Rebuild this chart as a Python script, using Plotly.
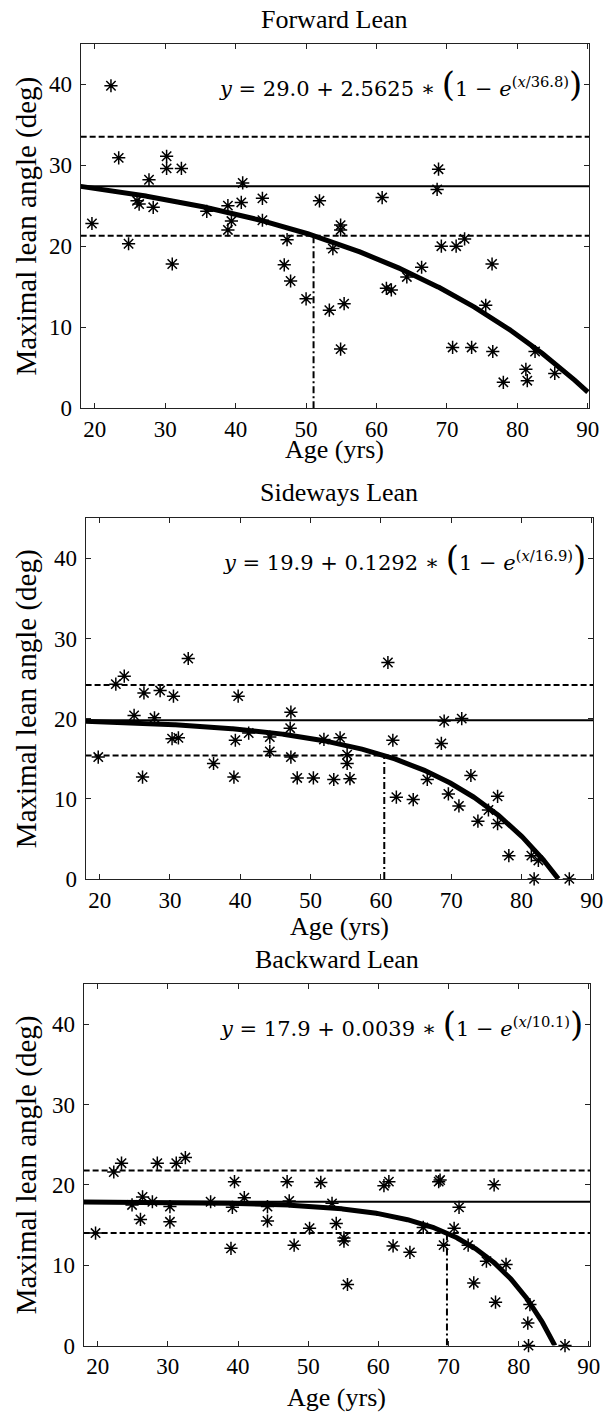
import numpy as np
import plotly.graph_objects as go

# Panel titles and fitted model y = a + b * (1 - exp(x / t))
titles = ["Forward Lean", "Sideways Lean", "Backward Lean"]
fit_a = [29.0, 19.9, 17.9]
fit_b = [2.5625, 0.1292, 0.0039]
fit_t = [36.8, 16.9, 10.1]
fit_a_txt = ["29.0", "19.9", "17.9"]
fit_b_txt = ["2.5625", "0.1292", "0.0039"]
fit_t_txt = ["36.8", "16.9", "10.1"]

# Young-adult reference level and band half-width (deg)
baseline = [27.4, 19.8, 17.9]
band = [6.1, 4.4, 3.9]

# Forward lean: age (yrs) and maximal lean angle (deg)
fwd_age = [19.6, 22.3, 23.4, 24.8, 26.0, 26.3, 27.7, 28.3, 30.2, 30.2, 31.0, 32.3,
           35.9, 38.9, 38.9, 39.4, 40.8, 41.0, 43.8, 43.8, 46.9, 47.3, 47.8, 50.0,
           51.9, 53.3, 53.8, 54.9, 54.9, 54.9, 55.4, 60.8, 61.4, 62.1, 64.3, 66.4,
           68.6, 68.8, 69.2, 70.8, 71.3, 72.5, 73.5, 75.5, 76.4, 76.5, 78.0, 81.2,
           81.4, 82.5, 85.3]
fwd_angle = [22.8, 39.8, 30.9, 20.3, 25.6, 25.2, 28.2, 24.8, 31.1, 29.6, 17.8, 29.6,
             24.3, 25.0, 22.0, 23.1, 25.4, 27.8, 25.9, 23.2, 17.7, 20.8, 15.7, 13.5,
             25.6, 12.1, 19.7, 22.6, 22.0, 7.3, 12.9, 26.0, 14.8, 14.6, 16.2, 17.4,
             27.0, 29.5, 20.0, 7.5, 20.0, 20.9, 7.5, 12.7, 17.8, 7.0, 3.2, 4.8,
             3.4, 7.0, 4.3]

# Sideways lean
side_age = [19.8, 22.3, 23.5, 24.9, 26.1, 26.3, 27.8, 28.6, 30.3, 30.5, 31.2, 32.6,
            36.2, 39.1, 39.3, 39.7, 41.2, 44.2, 44.2, 47.1, 47.2, 47.2, 48.1, 50.4,
            51.9, 53.3, 54.2, 55.2, 55.2, 55.6, 61.0, 61.7, 62.2, 64.6, 66.6, 68.6,
            69.0, 69.6, 71.1, 71.5, 72.8, 73.8, 75.3, 76.6, 76.6, 78.2, 81.4, 81.8,
            82.4, 86.8]
side_angle = [15.2, 24.3, 25.3, 20.4, 12.7, 23.2, 20.1, 23.5, 17.5, 22.8, 17.6, 27.5,
              14.4, 12.7, 17.3, 22.8, 18.2, 17.7, 15.9, 18.8, 20.8, 15.2, 12.6, 12.6,
              17.4, 12.4, 17.6, 15.5, 14.4, 12.5, 27.0, 17.3, 10.2, 9.9, 12.4, 16.9,
              19.7, 10.6, 9.1, 20.0, 12.9, 7.2, 8.6, 10.3, 6.9, 2.9, 2.9, 0.0,
              2.3, 0.0]

# Backward lean
back_age = [19.7, 22.3, 23.4, 24.9, 26.1, 26.4, 27.8, 28.5, 30.3, 30.3, 31.2, 32.5,
            36.1, 39.0, 39.2, 39.5, 40.9, 44.2, 44.2, 47.0, 47.3, 48.0, 50.2, 51.8,
            53.4, 54.0, 55.1, 55.1, 55.6, 60.8, 61.5, 62.1, 64.5, 66.4, 68.6, 68.8,
            69.3, 70.8, 71.5, 72.8, 73.6, 75.4, 76.5, 76.7, 78.2, 81.3, 81.6, 81.4,
            86.6]
back_angle = [14.0, 21.6, 22.7, 17.5, 15.7, 18.5, 17.9, 22.7, 17.3, 15.4, 22.7, 23.4,
              17.9, 12.1, 17.2, 20.4, 18.4, 17.3, 15.5, 20.4, 18.0, 12.5, 14.6, 20.3,
              17.7, 15.2, 13.4, 13.0, 7.6, 19.9, 20.4, 12.4, 11.6, 14.7, 20.4, 20.6,
              12.5, 14.6, 17.2, 12.5, 7.8, 10.5, 20.0, 5.4, 10.1, 2.8, 5.1, 0.0,
              0.0]

ages = [fwd_age, side_age, back_age]
angles = [fwd_angle, side_angle, back_angle]

x_ticks = [20, 30, 40, 50, 60, 70, 80, 90]
y_ticks = [0, 10, 20, 30, 40]
X_RANGE = [18, 90.2]
Y_RANGE = [0, 45]

# Panel placement on the page (pixels from the top-left corner)
W, H = 616, 1424
boxes = [  # left, right, top, bottom
    (82, 599, 44, 412),
    (87, 603, 523, 887),
    (85, 600, 993, 1358),
]
title_y = [20, 497, 968]
xlabel_y = [454, 935, 1410]

SERIF = "Liberation Serif, Times New Roman, serif"
EQ_FONT = "DejaVu Serif, serif"

fig = go.Figure()
layout = dict(
    width=W, height=H,
    margin=dict(l=0, r=0, t=0, b=0),
    paper_bgcolor="white", plot_bgcolor="white",
    showlegend=False,
    annotations=[],
)

for i in range(3):
    n = "" if i == 0 else str(i + 1)
    xa, ya = "x" + n, "y" + n
    left, right, top, bottom = boxes[i]
    a, b, t = fit_a[i], fit_b[i], fit_t[i]
    lo, hi = baseline[i] - band[i], baseline[i] + band[i]

    # fitted curve, kept above zero
    xs = np.linspace(X_RANGE[0], 90, 600)
    ys = a + b * (1 - np.exp(xs / t))
    keep = ys >= 0
    cx, cy = list(xs[keep]), list(ys[keep])
    if not keep.all():
        x0 = t * np.log(1 + a / b)
        cx.append(x0)
        cy.append(0.0)

    # age where the curve drops to the lower band
    x_cross = t * np.log(1 + (a - lo) / b)

    fig.add_trace(go.Scatter(x=X_RANGE, y=[baseline[i]] * 2, mode="lines",
                             line=dict(color="black", width=2), xaxis=xa, yaxis=ya))
    for lvl in (hi, lo):
        fig.add_trace(go.Scatter(x=X_RANGE, y=[lvl] * 2, mode="lines",
                                 line=dict(color="black", width=2, dash="6px,3px"),
                                 xaxis=xa, yaxis=ya))
    fig.add_trace(go.Scatter(x=[x_cross, x_cross], y=[0, lo], mode="lines",
                             line=dict(color="black", width=2, dash="7px,3px,2px,3px"),
                             xaxis=xa, yaxis=ya))
    fig.add_trace(go.Scatter(x=cx, y=cy, mode="lines",
                             line=dict(color="black", width=5), xaxis=xa, yaxis=ya))
    fig.add_trace(go.Scatter(x=ages[i], y=angles[i], mode="markers",
                             marker=dict(symbol="asterisk-open", size=11, color="black",
                                         line=dict(color="black", width=1.5)),
                             xaxis=xa, yaxis=ya, cliponaxis=False))

    axis_common = dict(
        showgrid=False, zeroline=False, showline=True, linecolor="#222", linewidth=1,
        mirror="ticks", ticks="inside", ticklen=5, tickwidth=1, tickcolor="#222",
        tickfont=dict(family=SERIF, size=23, color="black"),
    )
    layout["xaxis" + n] = dict(
        axis_common, domain=[left / W, right / W], range=X_RANGE,
        tickvals=x_ticks, anchor=ya, ticklabelstandoff=0,
    )
    layout["yaxis" + n] = dict(
        axis_common, domain=[1 - bottom / H, 1 - top / H], range=Y_RANGE,
        tickvals=y_ticks, anchor=xa, ticklabelstandoff=3,
    )

    cxp = (left + right) / 2 / W
    layout["annotations"] += [
        dict(text=titles[i], xref="paper", yref="paper", x=cxp, y=1 - title_y[i] / H,
             showarrow=False, xanchor="center", yanchor="middle",
             font=dict(family=SERIF, size=26, color="black")),
        dict(text="Age (yrs)", xref="paper", yref="paper", x=cxp, y=1 - xlabel_y[i] / H,
             showarrow=False, xanchor="center", yanchor="middle",
             font=dict(family=SERIF, size=26, color="black")),
        dict(text="Maximal lean angle (deg)", xref="paper", yref="paper",
             x=27 / W, y=1 - (top + bottom) / 2 / H, textangle=-90,
             showarrow=False, xanchor="center", yanchor="middle",
             font=dict(family=SERIF, size=29, color="black")),
        dict(text=("<i>y</i> = " + fit_a_txt[i] + " + " + fit_b_txt[i] + " ∗ "
                   + '<span style="font-size:34px">(</span>1 − <i>e</i>'
                   + "<sup>(<i>x</i>/" + fit_t_txt[i] + ")</sup>"
                   + '<span style="font-size:34px">)</span>'),
             xref=xa + " domain", yref=ya, x=0.99, y=40,
             showarrow=False, xanchor="right", yanchor="middle",
             font=dict(family=EQ_FONT, size=21, color="black")),
    ]

fig.update_layout(**layout)
fig.write_html("out.html")
